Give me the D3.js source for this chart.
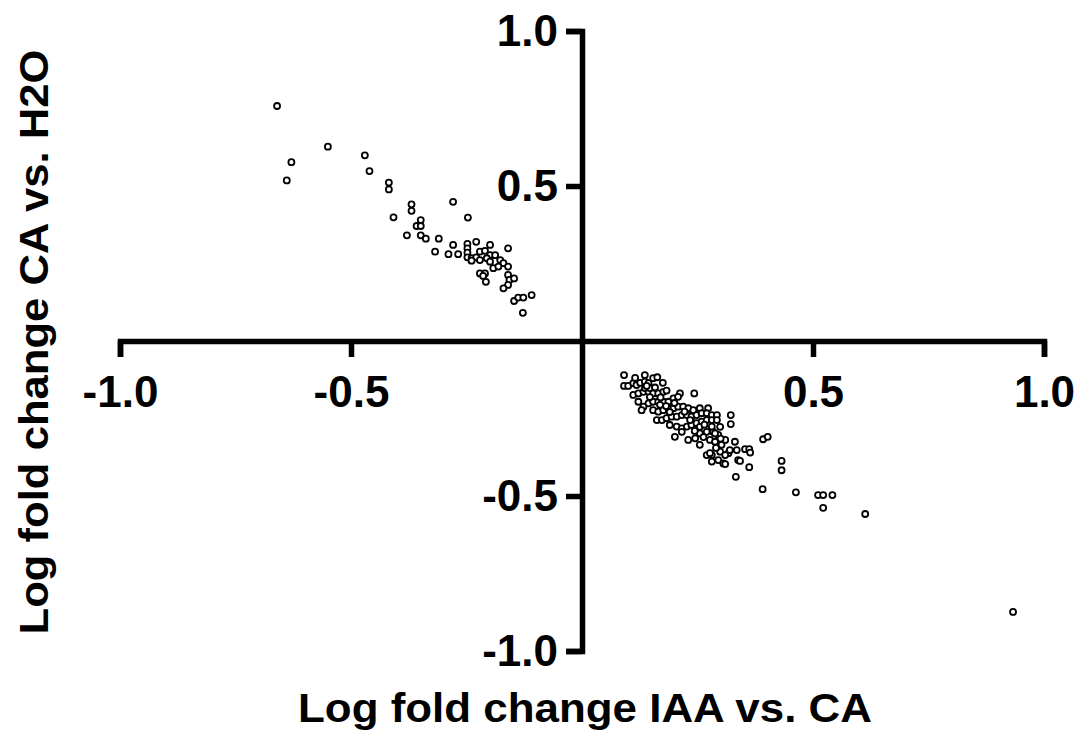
<!DOCTYPE html>
<html>
<head>
<meta charset="utf-8">
<script src="https://cdn.jsdelivr.net/npm/d3@7"></script>
<style>
  body { margin: 0; background: #fff; }
  text { font-family: "Liberation Sans", Arial, sans-serif; font-weight: bold; }
</style>
</head>
<body>
<div id="chart"></div>
<script>
// x: log fold change IAA vs. CA, y: log fold change CA vs. H2O
const upperLeft = [
  [-0.660, 0.758], [-0.550, 0.627], [-0.470, 0.599], [-0.629, 0.577], [-0.460, 0.548],
  [-0.639, 0.518], [-0.418, 0.511], [-0.418, 0.489], [-0.369, 0.441], [-0.369, 0.420],
  [-0.408, 0.399], [-0.349, 0.390], [-0.358, 0.371], [-0.349, 0.371], [-0.379, 0.341],
  [-0.349, 0.341], [-0.338, 0.330], [-0.310, 0.330], [-0.318, 0.288], [-0.289, 0.280],
  [-0.279, 0.449], [-0.247, 0.398], [-0.279, 0.310], [-0.268, 0.280], [-0.248, 0.313],
  [-0.248, 0.299], [-0.248, 0.285], [-0.248, 0.270], [-0.229, 0.320], [-0.239, 0.267],
  [-0.229, 0.270], [-0.239, 0.259], [-0.221, 0.288], [-0.210, 0.291], [-0.199, 0.310],
  [-0.199, 0.277], [-0.188, 0.277], [-0.221, 0.261], [-0.206, 0.267], [-0.199, 0.256],
  [-0.177, 0.261], [-0.170, 0.251], [-0.160, 0.299], [-0.192, 0.235], [-0.181, 0.240],
  [-0.160, 0.240], [-0.221, 0.218], [-0.210, 0.218], [-0.214, 0.210], [-0.160, 0.213],
  [-0.157, 0.197], [-0.147, 0.202], [-0.208, 0.191], [-0.160, 0.181], [-0.170, 0.170],
  [-0.147, 0.129], [-0.138, 0.140], [-0.127, 0.140], [-0.109, 0.148], [-0.128, 0.091]
];

const lowerRight = [
  [0.091, -0.110], [0.091, -0.145], [0.100, -0.145], [0.111, -0.136], [0.118, -0.142],
  [0.126, -0.135], [0.136, -0.131], [0.144, -0.136], [0.154, -0.120], [0.163, -0.117],
  [0.111, -0.174], [0.122, -0.169], [0.133, -0.164], [0.144, -0.164], [0.154, -0.169],
  [0.165, -0.169], [0.176, -0.164], [0.183, -0.160], [0.212, -0.169], [0.243, -0.169],
  [0.122, -0.196], [0.133, -0.212], [0.129, -0.223], [0.144, -0.201], [0.154, -0.196],
  [0.165, -0.196], [0.176, -0.196], [0.187, -0.196], [0.198, -0.185], [0.208, -0.180],
  [0.154, -0.223], [0.165, -0.228], [0.176, -0.223], [0.187, -0.217], [0.198, -0.217],
  [0.208, -0.212], [0.219, -0.212], [0.230, -0.217], [0.241, -0.223], [0.255, -0.217],
  [0.273, -0.217], [0.162, -0.255], [0.173, -0.255], [0.183, -0.249], [0.194, -0.244],
  [0.205, -0.244], [0.216, -0.239], [0.227, -0.239], [0.237, -0.244], [0.248, -0.239],
  [0.259, -0.233], [0.270, -0.233], [0.281, -0.239], [0.292, -0.239], [0.190, -0.271],
  [0.205, -0.276], [0.216, -0.282], [0.227, -0.276], [0.237, -0.271], [0.248, -0.265],
  [0.259, -0.260], [0.270, -0.255], [0.281, -0.255], [0.292, -0.255], [0.201, -0.309],
  [0.216, -0.293], [0.230, -0.319], [0.245, -0.314], [0.255, -0.298], [0.270, -0.293],
  [0.284, -0.293], [0.295, -0.303], [0.277, -0.319], [0.288, -0.325], [0.322, -0.239],
  [0.322, -0.268], [0.270, -0.368], [0.281, -0.368], [0.299, -0.357], [0.295, -0.384],
  [0.306, -0.395], [0.317, -0.362], [0.331, -0.325], [0.335, -0.352], [0.338, -0.384],
  [0.281, -0.276], [0.288, -0.298], [0.302, -0.335], [0.277, -0.362], [0.310, -0.368],
  [0.281, -0.389], [0.310, -0.397], [0.320, -0.352], [0.392, -0.317], [0.402, -0.309],
  [0.353, -0.349], [0.362, -0.349], [0.364, -0.360], [0.432, -0.387], [0.432, -0.417],
  [0.342, -0.387], [0.362, -0.407], [0.333, -0.438], [0.391, -0.478], [0.463, -0.488],
  [0.511, -0.497], [0.522, -0.497], [0.542, -0.497], [0.522, -0.538], [0.613, -0.558],
  [0.933, -0.874],
  [0.136, -0.152], [0.147, -0.181], [0.169, -0.206], [0.190, -0.229], [0.234, -0.255],
  [0.255, -0.277], [0.299, -0.277], [0.310, -0.319], [0.255, -0.335], [0.115, -0.119],
  [0.136, -0.110], [0.147, -0.152], [0.175, -0.135], [0.140, -0.145], [0.158, -0.150],
  [0.170, -0.182], [0.182, -0.210], [0.200, -0.200], [0.222, -0.228], [0.244, -0.290],
  [0.263, -0.310], [0.290, -0.345], [0.300, -0.315], [0.265, -0.270]
];

const xTicks = [-1, -0.5, 0.5, 1];
const yTicks = [-1, -0.5, 0.5, 1];
const xTitle = "Log fold change IAA vs. CA";
const yTitle = "Log fold change CA vs. H2O";

const width = 1082, height = 736;

const svg = d3.select("#chart").append("svg")
  .attr("width", width)
  .attr("height", height)
  .style("background", "#fff");

const x = d3.scaleLinear().domain([-1, 1]).range([120, 1044]);
const y = d3.scaleLinear().domain([-1, 1]).range([651, 31]);

const fmt = d => d.toFixed(1);

const xAxis = svg.append("g")
  .attr("transform", "translate(0," + y(0) + ")")
  .call(d3.axisBottom(x).tickValues(xTicks).tickSize(16).tickSizeOuter(16).tickFormat(fmt));

const yAxis = svg.append("g")
  .attr("transform", "translate(" + x(0) + ",0)")
  .call(d3.axisLeft(y).tickValues(yTicks).tickSize(16).tickSizeOuter(16).tickFormat(fmt));

[xAxis, yAxis].forEach(g => {
  g.select(".domain").attr("stroke", "#000").attr("stroke-width", 5.5);
  g.selectAll(".tick line").attr("stroke", "#000").attr("stroke-width", 5.5);
  g.selectAll(".tick text")
    .attr("fill", "#000")
    .style("font-size", "44px")
    .style("font-family", "'Liberation Sans', Arial, sans-serif")
    .style("font-weight", "bold");
});

xAxis.selectAll(".tick text").attr("y", 35).attr("dy", "0.71em");
yAxis.selectAll(".tick text").attr("x", -24).attr("dy", "0.34em");

// axis titles
svg.append("text")
  .attr("x", 585)
  .attr("y", 722)
  .attr("text-anchor", "middle")
  .attr("textLength", 574)
  .attr("lengthAdjust", "spacingAndGlyphs")
  .style("font-size", "40px")
  .text(xTitle);

svg.append("text")
  .attr("transform", "translate(48,342) rotate(-90)")
  .attr("text-anchor", "middle")
  .attr("textLength", 585)
  .attr("lengthAdjust", "spacingAndGlyphs")
  .style("font-size", "40px")
  .text(yTitle);

// points
const points = upperLeft.concat(lowerRight);
svg.append("g")
  .selectAll("circle")
  .data(points)
  .enter()
  .append("circle")
  .attr("cx", d => x(d[0]))
  .attr("cy", d => y(d[1]))
  .attr("r", 3)
  .attr("fill", "#fff")
  .attr("stroke", "#000")
  .attr("stroke-width", 1.8);
</script>
</body>
</html>
